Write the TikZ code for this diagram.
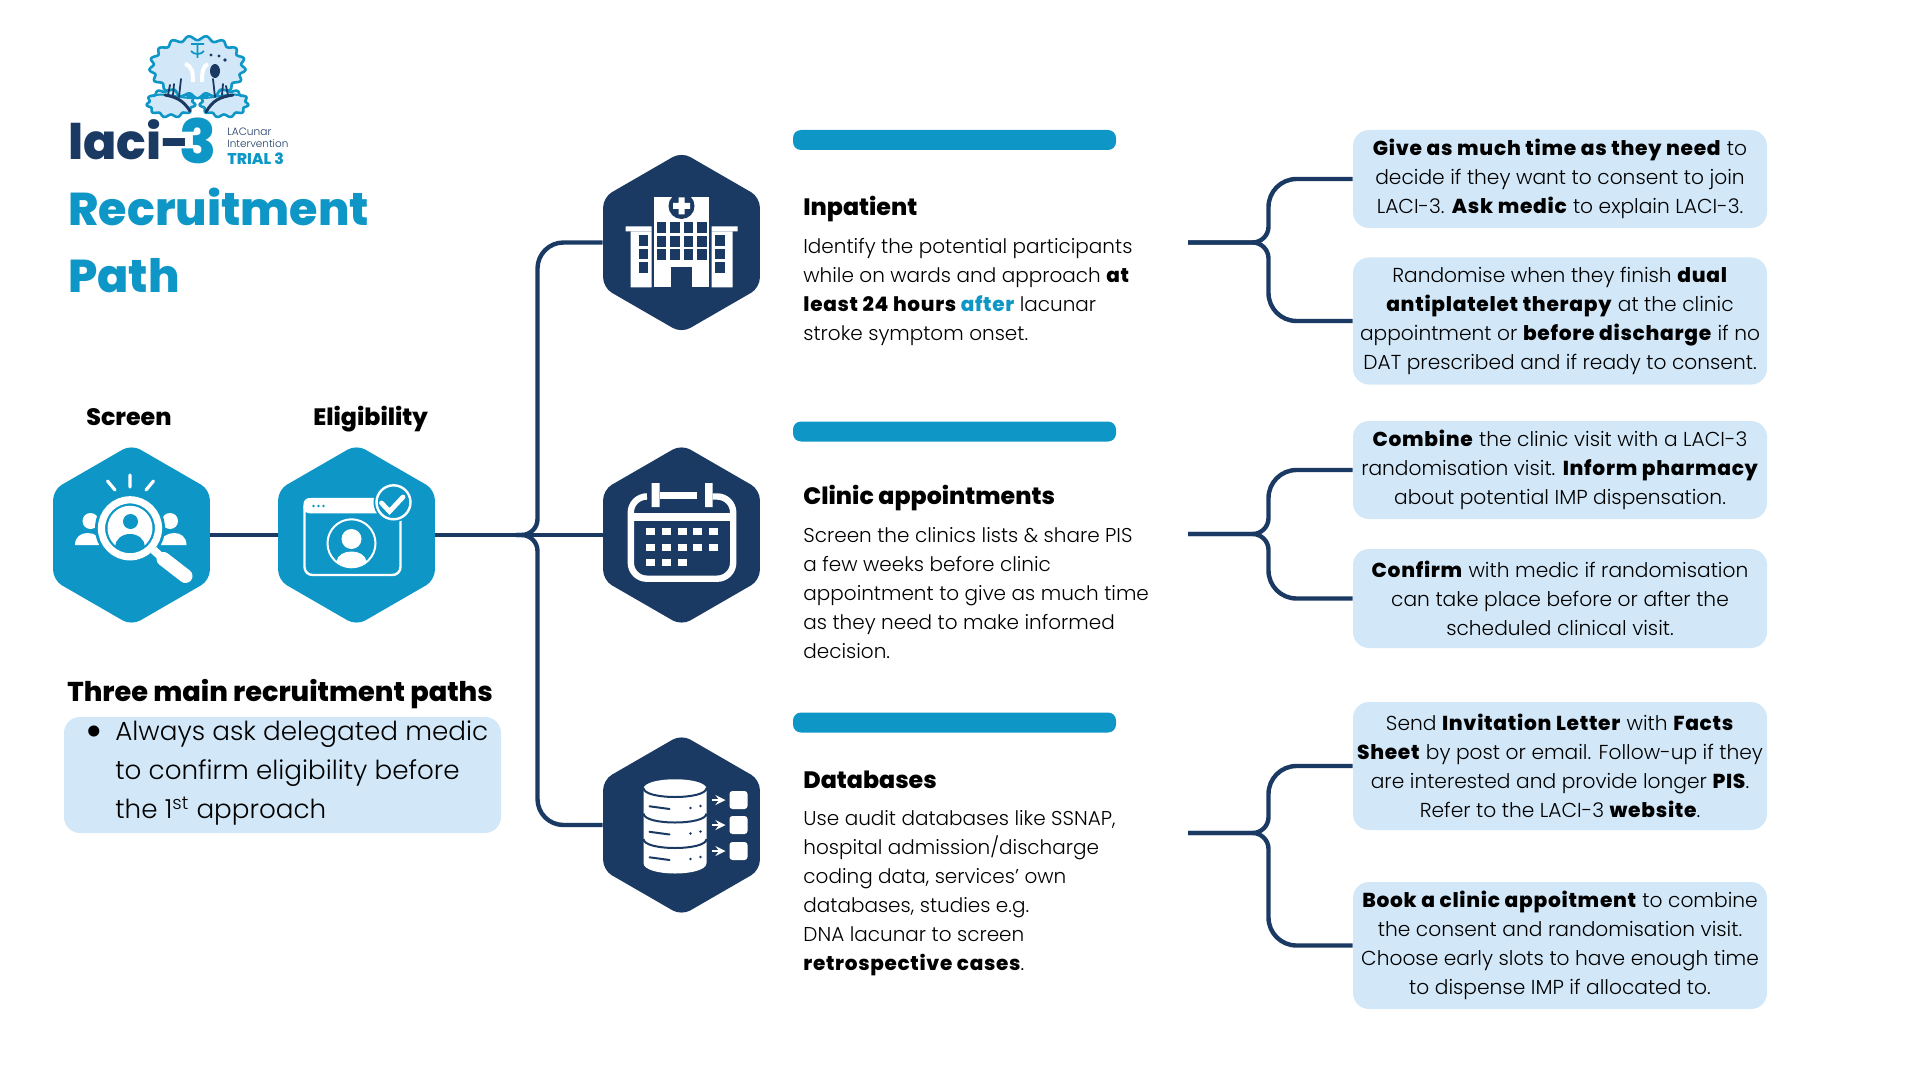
\documentclass[tikz,border=0pt]{standalone}
\usepackage{fontspec}
\setmainfont{Poppins}[UprightFont=* Light, BoldFont=* ExtraBold, BoldFeatures={LetterSpace=3.5}]
\newfontfamily\headfont{Poppins ExtraBold}
\usetikzlibrary{shapes.geometric}
\definecolor{teal1}{HTML}{0E97C6}
\definecolor{navy1}{HTML}{1B3A63}
\definecolor{pale1}{HTML}{D2E8F8}
\tikzset{
  hexa/.style={regular polygon, regular polygon sides=6, shape border rotate=30, minimum size=90.5pt, inner sep=0pt, rounded corners=5pt, fill=#1},
  link/.style={draw=navy1, line width=2.2pt},
  bar/.style={fill=teal1, rounded corners=4pt, minimum width=161.5pt, minimum height=10pt, inner sep=0pt},
  notebox/.style={fill=pale1, rounded corners=8pt, minimum width=207pt, minimum height=#1, inner sep=0pt, align=center, font=\fontsize{10.1}{14.5}\selectfont},
  head/.style={anchor=base west, inner sep=0pt, font=\fontsize{11.85}{14}\selectfont\headfont},
  para/.style={anchor=north west, inner sep=0pt, align=left, font=\fontsize{10}{14.55}\selectfont},
  lobe/.style={fill=pale1, draw=teal1, line width=1.3pt}
}
\begin{document}
\begin{tikzpicture}[x=0.5pt, y=-0.5pt]
    \useasboundingbox (0,0) rectangle (1920,1080);

    % Logo: brain
    \draw[lobe] plot[domain=0:360, samples=120, smooth cycle] ({171+(23+1.5*sin(11*\x))*cos(\x)}, {103+(13+1.5*sin(11*\x))*sin(\x)});
    \draw[lobe] plot[domain=0:360, samples=120, smooth cycle] ({224+(23+1.5*sin(11*\x))*cos(\x)}, {103+(13+1.5*sin(11*\x))*sin(\x)});
    \draw[lobe] plot[domain=0:360, samples=240, smooth cycle] ({197.5+(46+2.2*sin(17*\x))*cos(\x)}, {67+(29+2.2*sin(17*\x))*sin(\x)});
    \draw[teal1, line width=1pt] (150,96) .. controls (165,92) and (178,98) .. (192,98);
    \draw[teal1, line width=1pt] (245,96) .. controls (230,92) and (216,98) .. (203,98);
    \draw[teal1, line width=0.9pt] (191,44) -- (204,44) (197.5,44) -- (197.5,58) (191,51) .. controls (194,55) and (201,55) .. (204,51);
    \draw[white, line width=2pt] (185,64) .. controls (192,66) and (193,72) .. (193,82);
    \draw[white, line width=2pt] (208,64) .. controls (203,66) and (202,72) .. (202,82);
    \fill[navy1] (215,71) ellipse[x radius=5, y radius=7];
    \fill[navy1] (211,55) circle[radius=1.7] (219,56) circle[radius=1.7] (225,60) circle[radius=1.9];
    \draw[navy1, line width=1.5pt, line cap=round] (190,111) .. controls (183,100) and (176,97) .. (165,95);
    \draw[navy1, line width=1.5pt, line cap=round] (206,112) .. controls (213,100) and (220,97) .. (233,95);
    \draw[navy1, line width=0.9pt, line cap=round] (168,95) -- (170,85) (173,95) -- (174,84) (179,97) -- (181,79);
    \draw[navy1, line width=0.9pt, line cap=round] (228,95) -- (226,86) (222,95) -- (223,84) (215,97) -- (213,79);

    % Logo: wordmark
    \node[anchor=base west, inner sep=0pt, text=navy1, font=\fontsize{24.5}{25}\selectfont\headfont] (wordA) at (68,160) {laci-};
    \node[anchor=base west, inner sep=0pt, text=teal1, font=\fontsize{30.5}{31}\selectfont\headfont] (wordB) at (179,164) {3};
    \node[anchor=base west, inner sep=0pt, text=navy1, font=\fontsize{5.3}{6}\selectfont] (wordC) at (227,136) {LACunar};
    \node[anchor=base west, inner sep=0pt, text=navy1, font=\fontsize{5.2}{6}\selectfont] (wordD) at (227,148) {Intervention};
    \node[anchor=base west, inner sep=0pt, text=teal1, font=\fontsize{7.8}{8}\selectfont\headfont] (wordE) at (227,165) {TRIAL 3};

    % Title
    \node[anchor=base west, inner sep=0pt, text=teal1, font=\fontsize{23}{23}\selectfont\headfont] (titleA) at (68,226) {Recruitment};
    \node[anchor=base west, inner sep=0pt, text=teal1, font=\fontsize{23}{23}\selectfont\headfont] (titleB) at (68,293) {Path};

    % Define hexagons
    \node[hexa=teal1] (scr) at (131.5,535) {};
    \node[hexa=teal1] (eli) at (356.5,535) {};
    \node[hexa=navy1] (inp) at (681.5,242.5) {};
    \node[hexa=navy1] (cal) at (681.5,535) {};
    \node[hexa=navy1] (dbs) at (681.5,825) {};

    % Labels over the first two hexagons
    \node[head] (scrlab) at (86,425) {Screen};
    \node[head] (elilab) at (313,425) {Eligibility};

    % Three main paths
    \node[anchor=base west, inner sep=0pt, font=\fontsize{13.6}{15}\selectfont\headfont] (mainlab) at (67,701) {Three main recruitment paths};
    \node[fill=pale1, rounded corners=8pt, minimum width=218.5pt, minimum height=58pt, inner sep=0pt] (mainbox) at (282.5,775) {};
    \node[anchor=center, inner sep=0pt, font=\fontsize{24}{24}\selectfont] (maindot) at (94,737) {•};
    \node[anchor=base west, inner sep=0pt, font=\fontsize{13.1}{13}\selectfont] (mainA) at (115,740) {Always ask delegated medic};
    \node[anchor=base west, inner sep=0pt, font=\fontsize{13.1}{13}\selectfont] (mainB) at (115,779) {to confirm eligibility before};
    \node[anchor=base west, inner sep=0pt, font=\fontsize{13.1}{13}\selectfont] (mainC) at (115,818) {the 1\textsuperscript{st} approach};

    % Bars over the middle column
    \node[bar] (barA) at (954.5,140) {};
    \node[bar] (barB) at (954.5,431.5) {};
    \node[bar] (barC) at (954.5,722.5) {};

    % Middle column text
    \node[head] (inplab) at (803,216) {Inpatient};
    \node[para] (inptxt) at (803,238) {Identify the potential participants\\while on wards and approach \textbf{at}\\\textbf{least 24 hours \textcolor{teal1}{after}} lacunar\\stroke symptom onset.};
    \node[head] (callab) at (803,504) {Clinic appointments};
    \node[para] (caltxt) at (803,527) {Screen the clinics lists \& share PIS\\a few weeks before clinic\\appointment to give as much time\\as they need to make informed\\decision.};
    \node[head] (dbslab) at (803,788) {Databases};
    \node[para] (dbstxt) at (803,810) {Use audit databases like SSNAP,\\hospital admission/discharge\\coding data, services’ own\\databases, studies e.g.\\DNA lacunar to screen\\\textbf{retrospective cases}.};

    % Boxes in the right column
    \node[notebox=49pt] (noteA) at (1560,179) {\textbf{Give as much time as they need} to\\decide if they want to consent to join\\LACI-3. \textbf{Ask medic} to explain LACI-3.};
    \node[notebox=63.5pt] (noteB) at (1560,321) {Randomise when they finish \textbf{dual}\\\textbf{antiplatelet therapy} at the clinic\\appointment or \textbf{before discharge} if no\\DAT prescribed and if ready to consent.};
    \node[notebox=49pt] (noteC) at (1560,470) {\textbf{Combine} the clinic visit with a LACI-3\\randomisation visit. \textbf{Inform pharmacy}\\about potential IMP dispensation.};
    \node[notebox=49.5pt] (noteD) at (1560,598.5) {\textbf{Confirm} with medic if randomisation\\can take place before or after the\\scheduled clinical visit.};
    \node[notebox=64pt] (noteE) at (1560,766) {Send \textbf{Invitation Letter} with \textbf{Facts}\\\textbf{Sheet} by post or email. Follow-up if they\\are interested and provide longer \textbf{PIS}.\\Refer to the LACI-3 \textbf{website}.};
    \node[notebox=63.5pt] (noteF) at (1560,945.5) {\textbf{Book a clinic appoitment} to combine\\the consent and randomisation visit.\\Choose early slots to have enough time\\to dispense IMP if allocated to.};

    % Connector ends
    \coordinate (hubL) at (516,535);
    \coordinate (railL) at (537.5,400);
    \coordinate (railU) at (537.5,640);
    \coordinate (tailA) at (1188,242.5);
    \coordinate (forkA) at (1268.5,242.5);
    \coordinate (tailB) at (1188,534);
    \coordinate (forkB) at (1268.5,534);
    \coordinate (tailC) at (1188,833);
    \coordinate (forkC) at (1268.5,833);

    % Draw connectors of the left part
    \draw[link] (scr.east) -- (eli.west);
    \draw[link] (eli.east) -- (cal.west);
    \draw[link, rounded corners=8pt] (hubL) -| (railL) [rounded corners=13pt] |- (inp.west);
    \draw[link, rounded corners=8pt] (hubL) -| (railU) [rounded corners=13pt] |- (dbs.west);

    % Draw connectors of the right part
    \draw[link, rounded corners=8pt] (tailA) -- (forkA) [rounded corners=14pt] |- (noteA.west);
    \draw[link, rounded corners=8pt] (tailA) -- (forkA) [rounded corners=14pt] |- (noteB.west);
    \draw[link, rounded corners=8pt] (tailB) -- (forkB) [rounded corners=14pt] |- (noteC.west);
    \draw[link, rounded corners=8pt] (tailB) -- (forkB) [rounded corners=14pt] |- (noteD.west);
    \draw[link, rounded corners=8pt] (tailC) -- (forkC) [rounded corners=14pt] |- (noteE.west);
    \draw[link, rounded corners=8pt] (tailC) -- (forkC) [rounded corners=14pt] |- (noteF.west);

    % Icon: screening
    \begin{scope}[shift={(scr.center)}]
        \draw[white, line width=1.6pt, line cap=round] (-1.5,-60) -- (-1.5,-48) (-24,-54) -- (-16.5,-45) (22,-54) -- (14.5,-45);
        \fill[white] (-41,-14) circle[radius=8] (38.5,-14) circle[radius=8];
        \fill[white] (-56.5,10) .. controls (-56.5,-6) and (-33,-6) .. (-27,10) -- cycle;
        \fill[white] (55,10) .. controls (55,-6) and (32,-6) .. (26,10) -- cycle;
        \fill[teal1] (-1.5,-6.7) circle[radius=35];
        \fill[white] (-1.5,-6.7) circle[radius=22.5];
        \fill[teal1] (-1,-13.5) circle[radius=7.5];
        \fill[teal1] (-1.5,12) ellipse[x radius=15, y radius=13];
        \draw[white, line width=3.6pt] (-1.5,-6.7) circle[radius=28.5];
        \draw[white, line width=4pt] (22,15) -- (32,24);
        \draw[white, line width=7pt, line cap=round] (32,24) -- (54,41);
    \end{scope}

    % Icon: eligibility
    \begin{scope}[shift={(eli.center)}]
        \draw[white, line width=1.2pt, rounded corners=4pt] (-52,-36) rectangle (44,40);
        \fill[white, rounded corners=3pt] (-53,-37) rectangle (45,-21.7);
        \fill[teal1] (-43,-29) circle[radius=1.3] (-38,-29) circle[radius=1.3] (-33,-29) circle[radius=1.3];
        \draw[white, line width=1pt] (-5,8.3) circle[radius=24];
        \fill[white] (-5,4) circle[radius=10];
        \fill[white] (-20,27) .. controls (-19,13) and (9,13) .. (10,27) .. controls (4,33.5) and (-14,33.5) .. (-20,27) -- cycle;
        \fill[teal1] (37,-32.7) circle[radius=20];
        \draw[white, line width=1.2pt] (37,-32.7) circle[radius=17];
        \draw[white, line width=2.4pt, line cap=round] (25,-32) -- (33,-23.5) -- (46.5,-38);
    \end{scope}

    % Icon: hospital
    \begin{scope}[shift={(inp.center)}]
        \fill[white] (-27.5,-45) rectangle (27.5,45);
        \fill[white] (-56,-16) rectangle (-30,-11) (30,-16) rectangle (56,-11);
        \fill[white] (-51,-11) rectangle (-30,45) (30,-11) rectangle (51,45);
        \fill[navy1] (0,-36.5) circle[radius=13];
        \fill[white] (-3,-45) rectangle (3,-28) (-8.5,-39.5) rectangle (8.5,-33.5);
        \foreach \px in {-25,-11.5,2,15.5} \foreach \py in {-20,-6.5,7}
            \fill[navy1] (\px,\py) rectangle ++(9.5,11);
        \fill[navy1] (-10.7,24.5) rectangle (10.7,45);
        \foreach \py in {-7,6.5,20} {
            \fill[navy1] (-43,\py) rectangle ++(9.5,10.5);
            \fill[navy1] (33.7,\py) rectangle ++(9.5,10.5);
        }
    \end{scope}

    % Icon: calendar
    \begin{scope}[shift={(cal.center)}]
        \draw[white, line width=3.2pt, rounded corners=8pt] (-38,-38.5) -- (-50.7,-38.5) -- (-50.7,43.7) -- (51.7,43.7) -- (51.7,-38.5) -- (31,-38.5);
        \fill[white] (-51,-22) rectangle (52,-14.5);
        \fill[white] (-30,-52) rectangle (-22,-28) (23.5,-52) rectangle (31,-28);
        \fill[white] (-22,-43.5) rectangle (15.7,-36);
        \foreach \px in {-35.5,-19.7,-3.9,11.9,27.7} \foreach \py in {-6.7,9}
            \fill[white] (\px,\py) rectangle ++(9,7);
        \foreach \px in {-35.5,-19.7,-3.9}
            \fill[white] (\px,24) rectangle ++(9,7);
    \end{scope}

    % Icon: databases
    \begin{scope}[shift={(dbs.center)}]
        \fill[white] (-38,-36) .. controls (-38,-49) and (25,-49) .. (25,-36) -- (25,38) .. controls (25,52) and (-38,52) .. (-38,38) -- cycle;
        \foreach \py in {0,25.5,51} {
            \draw[navy1, line width=1pt] (-38,-37+\py) .. controls (-38,-25+\py) and (25,-25+\py) .. (25,-37+\py);
            \draw[navy1, line width=1pt, line cap=round] (-32,-18.7+\py) -- (-12,-16+\py);
            \fill[navy1] (9,-17+\py) circle[radius=1.4] (19,-19+\py) circle[radius=1.4];
        }
        \foreach \py in {-25,0,26} {
            \draw[white, line width=1.2pt, ->, >=stealth] (30.6,\py) -- (44,\py);
            \fill[white, rounded corners=1.5pt] (48,\py-9) rectangle ++(18,18);
        }
    \end{scope}

\end{tikzpicture}
\end{document}
